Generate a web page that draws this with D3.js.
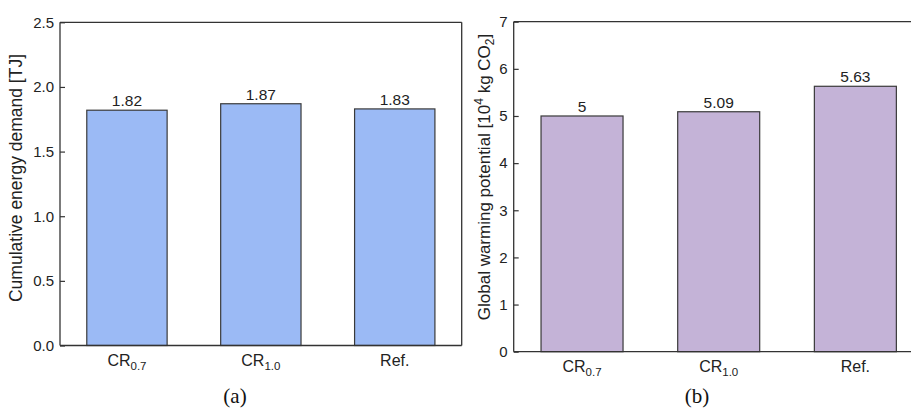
<!DOCTYPE html>
<html>
<head>
<meta charset="utf-8">
<script src="https://cdn.jsdelivr.net/npm/d3@7"></script>
<style>
  body { margin: 0; background: #fff; }
</style>
</head>
<body>
<script>
// categories and values
const cats = ["CR0.7", "CR1.0", "Ref."];
const catMain = ["CR", "CR", "Ref."];
const catSub = ["0.7", "1.0", ""];
const cedValues = [1.82, 1.87, 1.83];
const cedLabels = ["1.82", "1.87", "1.83"];
const gwpValues = [5, 5.09, 5.63];
const gwpLabels = ["5", "5.09", "5.63"];
const cedTicks = [0, 0.5, 1.0, 1.5, 2.0, 2.5];
const gwpTicks = [0, 1, 2, 3, 4, 5, 6, 7];

const sans = "Liberation Sans, Arial, sans-serif";

const svg = d3.select("body").append("svg")
  .attr("width", 911)
  .attr("height", 408)
  .attr("font-family", sans);

// draws one panel
function panel(opt) {
  const x = d3.scaleBand().domain(cats)
    .range([opt.left, opt.right])
    .paddingInner(0.4).paddingOuter(0.2);
  const y = d3.scaleLinear().domain(opt.domain)
    .range([opt.bottom, opt.top]);

  const g = svg.append("g");

  // bars
  g.selectAll("rect.bar")
    .data(opt.values)
    .join("rect")
      .attr("x", (d, i) => x(cats[i]))
      .attr("y", d => y(d))
      .attr("width", x.bandwidth())
      .attr("height", d => y(0) - y(d))
      .attr("fill", opt.color)
      .attr("stroke", "#3a3a3a")
      .attr("stroke-width", 1.2);

  // value labels
  g.selectAll("text.val")
    .data(opt.values)
    .join("text")
      .attr("x", (d, i) => x(cats[i]) + x.bandwidth() / 2)
      .attr("y", d => y(d) - 4)
      .attr("text-anchor", "middle")
      .attr("font-size", 15.5)
      .attr("fill", "#222")
      .text((d, i) => opt.labels[i]);

  // y axis, ticks inward
  const ya = g.append("g")
    .attr("transform", `translate(${opt.left},0)`)
    .call(d3.axisRight(y).tickValues(opt.ticks).tickSize(5).tickFormat(opt.fmt));
  ya.select(".domain").remove();
  ya.attr("font-family", sans).attr("font-size", 15);
  ya.selectAll("line").attr("stroke", "#333").attr("stroke-width", 1.2);
  ya.selectAll("text")
    .attr("x", -6)
    .attr("text-anchor", "end")
    .attr("fill", "#222");

  // frame
  const fr = g.append("g").attr("stroke", "#333").attr("stroke-width", 1.3).attr("fill", "none");
  fr.append("line").attr("x1", opt.left).attr("x2", opt.left).attr("y1", opt.top).attr("y2", opt.bottom);
  fr.append("line").attr("x1", opt.left).attr("x2", opt.right).attr("y1", opt.bottom).attr("y2", opt.bottom);
  fr.append("line").attr("x1", opt.left).attr("x2", opt.right).attr("y1", opt.top).attr("y2", opt.top);
  fr.append("line").attr("x1", opt.right).attr("x2", opt.right).attr("y1", opt.top).attr("y2", opt.bottom);

  // x labels
  const xl = g.selectAll("text.xl")
    .data(cats)
    .join("text")
      .attr("x", d => x(d) + x.bandwidth() / 2)
      .attr("y", opt.bottom + 20)
      .attr("text-anchor", "middle")
      .attr("font-size", 16)
      .attr("fill", "#222");
  xl.append("tspan").text((d, i) => catMain[i]);
  xl.append("tspan")
    .attr("font-size", 11.5)
    .attr("dy", 4)
    .text((d, i) => catSub[i]);

  // y title
  const yt = g.append("text")
    .attr("transform", `translate(${opt.titleX},${opt.titleY}) rotate(-90)`)
    .attr("text-anchor", "middle")
    .attr("font-size", opt.titleSize)
    .attr("fill", "#222");
  opt.title(yt);

  // caption
  svg.append("text")
    .attr("x", opt.capX)
    .attr("y", 403)
    .attr("text-anchor", "middle")
    .attr("font-family", "Liberation Serif, Times New Roman, serif")
    .attr("font-size", 21)
    .attr("fill", "#111")
    .text(opt.caption);
}

panel({
  left: 60, right: 461.7, top: 22.3, bottom: 345.5,
  domain: [0, 2.5], ticks: cedTicks, fmt: d3.format(".1f"),
  values: cedValues, labels: cedLabels, color: "#9bbaf5",
  titleX: 22, titleY: 178, titleSize: 17.5,
  title: t => t.text("Cumulative energy demand [TJ]"),
  capX: 235, caption: "(a)"
});

panel({
  left: 513.7, right: 923.7, top: 21.7, bottom: 351.7,
  domain: [0, 7], ticks: gwpTicks, fmt: d3.format("d"),
  values: gwpValues, labels: gwpLabels, color: "#c4b3d7",
  titleX: 490, titleY: 177, titleSize: 17,
  title: t => {
    t.append("tspan").text("Global warming potential [10");
    t.append("tspan").attr("font-size", 12).attr("dy", -7).text("4");
    t.append("tspan").attr("dy", 7).text(" kg CO");
    t.append("tspan").attr("font-size", 12).attr("dy", 4).text("2");
    t.append("tspan").attr("dy", -4).text("]");
  },
  capX: 697, caption: "(b)"
});
</script>
</body>
</html>
